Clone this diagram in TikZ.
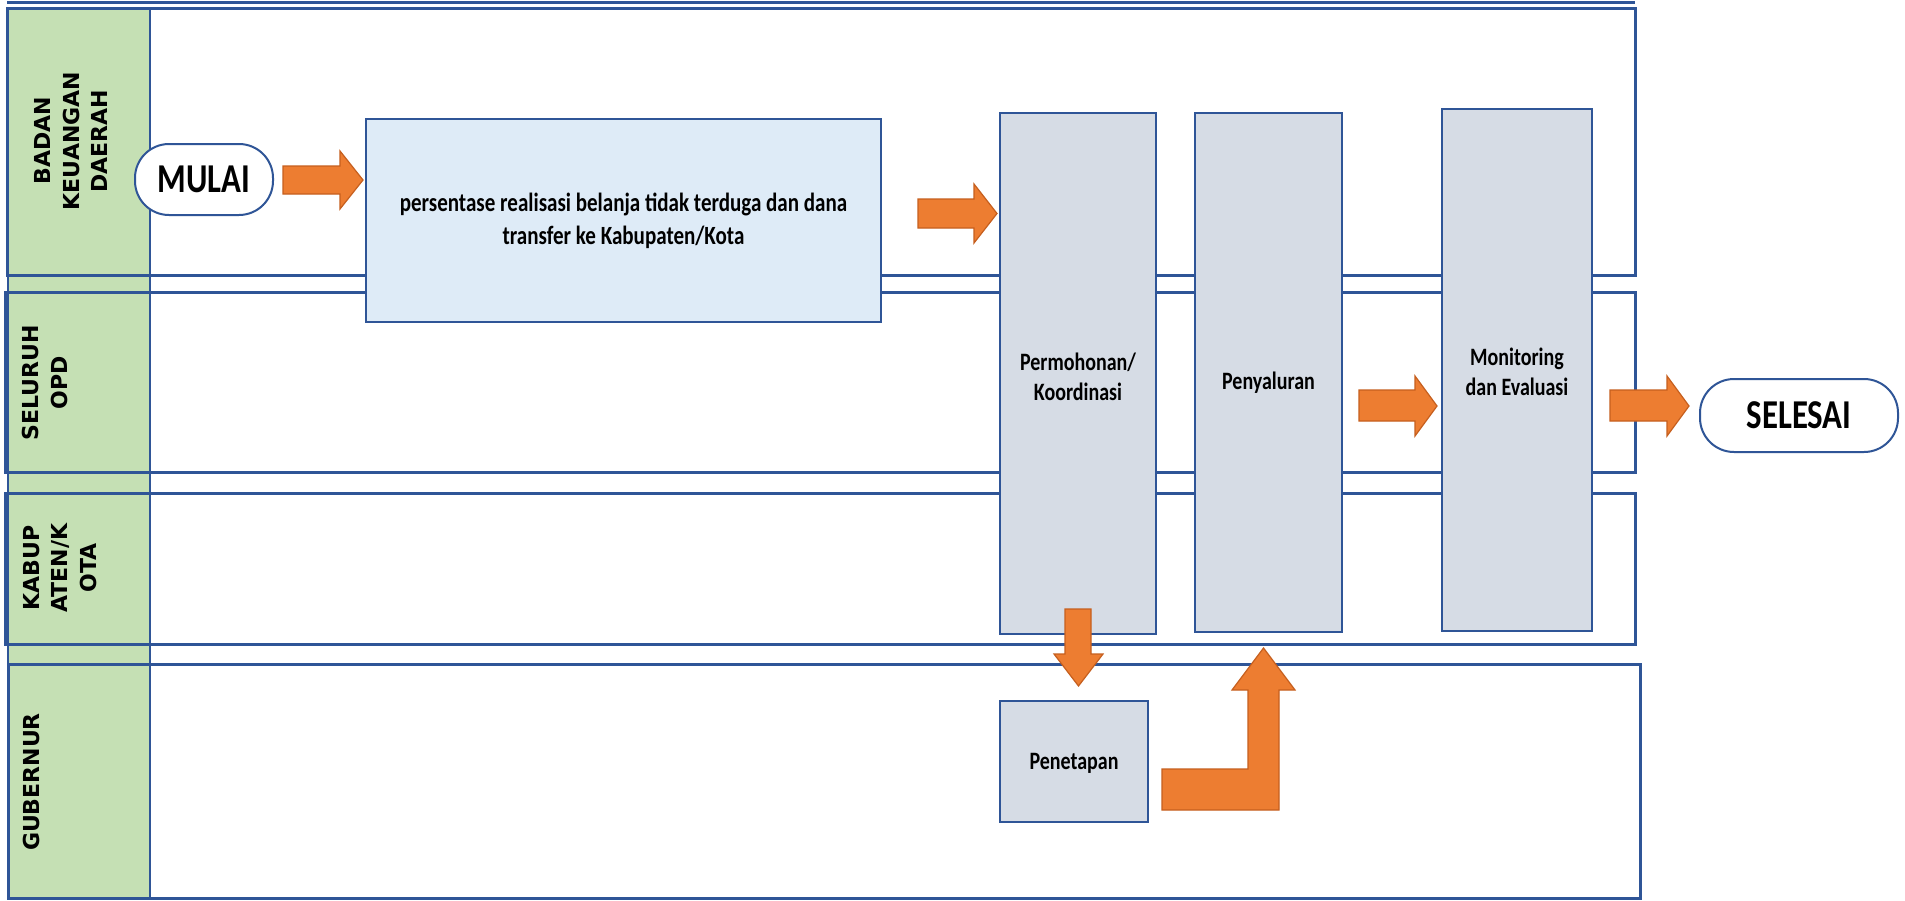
\documentclass[tikz,border=0pt]{standalone}
\usepackage{fontspec}
\newfontfamily\boxfont{Carlito}[FakeStretch=0.8]
\newfontfamily\lanefont{DejaVu Sans}
\definecolor{laneblue}{HTML}{2F5597}
\definecolor{lanegreen}{HTML}{C5E0B4}
\definecolor{procfill}{HTML}{D6DCE5}
\definecolor{taskfill}{HTML}{DEEBF7}
\definecolor{arrfill}{HTML}{ED7D31}
\definecolor{arrline}{HTML}{C65F1E}
\begin{document}
\begin{tikzpicture}[x=1pt,y=-1pt,
  lane/.style={draw=laneblue,line width=3pt},
  proc/.style={draw=laneblue,line width=2pt,fill=procfill,inner sep=0pt,outer sep=0pt},
  task/.style={proc,fill=taskfill},
  term/.style={draw=laneblue,line width=2pt,fill=white,rounded corners=34pt,inner sep=0pt,
    font=\boxfont\bfseries\fontsize{41}{41}\selectfont},
  blockarrow/.style={fill=arrfill,draw=arrline,line width=1.2pt,line join=miter},
  boxtext/.style={font=\boxfont\bfseries\fontsize{25}{30}\selectfont,align=center,inner sep=0pt},
  lanelabel/.style={font=\lanefont\bfseries\fontsize{22}{28.5}\selectfont,align=center,rotate=90,inner sep=0pt},
]
\useasboundingbox (0,0) rectangle (1905,900);
\fill[white] (0,0) rectangle (1905,900);
% green label column
\fill[lanegreen] (8,8) rectangle (150,898);
\draw[laneblue,line width=2.5pt] (8,8) rectangle (150,898);
% lanes
\draw[lane] (7,8) rectangle (1635,275);
\draw[lane] (5,292) rectangle (1635,472);
\draw[lane] (5,493) rectangle (1635,644);
\draw[lane] (8,664) rectangle (1640,898);
\draw[lane] (7,2.5) -- (1635,2.5);
% lane labels
\node[lanelabel] (lbl1) at (71,141) {BADAN\\KEUANGAN\\DAERAH};
\node[lanelabel] (lbl2) at (45,383) {SELURUH\\OPD};
\node[lanelabel] (lbl3) at (60,568) {KABUP\\ATEN/K\\OTA};
\node[lanelabel] (lbl4) at (31,782) {GUBERNUR};
% process boxes
\node[task,minimum width=515pt,minimum height=203pt,boxtext,font=\boxfont\bfseries\fontsize{26.3}{33}\selectfont] (pers) at (623.5,220.5)
  {persentase realisasi belanja tidak terduga dan dana\\transfer ke Kabupaten/Kota};
\node[proc,minimum width=156pt,minimum height=521pt] (perm) at (1078,373.5) {};
\node[proc,minimum width=147pt,minimum height=519pt] (peny) at (1268.5,372.5) {};
\node[proc,minimum width=150pt,minimum height=522pt] (moni) at (1517,370) {};
\node[proc,minimum width=148pt,minimum height=121pt] (pene) at (1074,761.5) {};
\node[boxtext] (permt) at (1078,377) {Permohonan/\\Koordinasi};
\node[boxtext] (penyt) at (1268.5,383) {Penyaluran};
\node[boxtext] (monit) at (1517,372) {Monitoring\\dan Evaluasi};
\node[boxtext] (penet) at (1074,763) {Penetapan};
% terminals
\node[term,minimum width=138pt,minimum height=71pt] (mulai) at (204,179.5) {MULAI};
\node[term,minimum width=198pt,minimum height=73pt] (selesai) at (1799,415.5) {SELESAI};
% block arrows
\draw[blockarrow] (283,166) -- (340,166) -- (340,151) -- (363,180) -- (340,209) -- (340,194) -- (283,194) -- cycle;
\draw[blockarrow] (918,199) -- (974,199) -- (974,184) -- (997,213.5) -- (974,243) -- (974,228) -- (918,228) -- cycle;
\draw[blockarrow] (1359,390) -- (1415,390) -- (1415,376) -- (1437,406) -- (1415,436) -- (1415,421) -- (1359,421) -- cycle;
\draw[blockarrow] (1610,390) -- (1667,390) -- (1667,376) -- (1689,406) -- (1667,436) -- (1667,421) -- (1610,421) -- cycle;
\draw[blockarrow] (1065,609) -- (1091,609) -- (1091,654) -- (1103,654) -- (1078.5,686) -- (1054,654) -- (1065,654) -- cycle;
\draw[blockarrow] (1162,769) -- (1248,769) -- (1248,690) -- (1232,690) -- (1263.5,648) -- (1295,690) -- (1279,690) -- (1279,810) -- (1162,810) -- cycle;
\end{tikzpicture}
\end{document}
